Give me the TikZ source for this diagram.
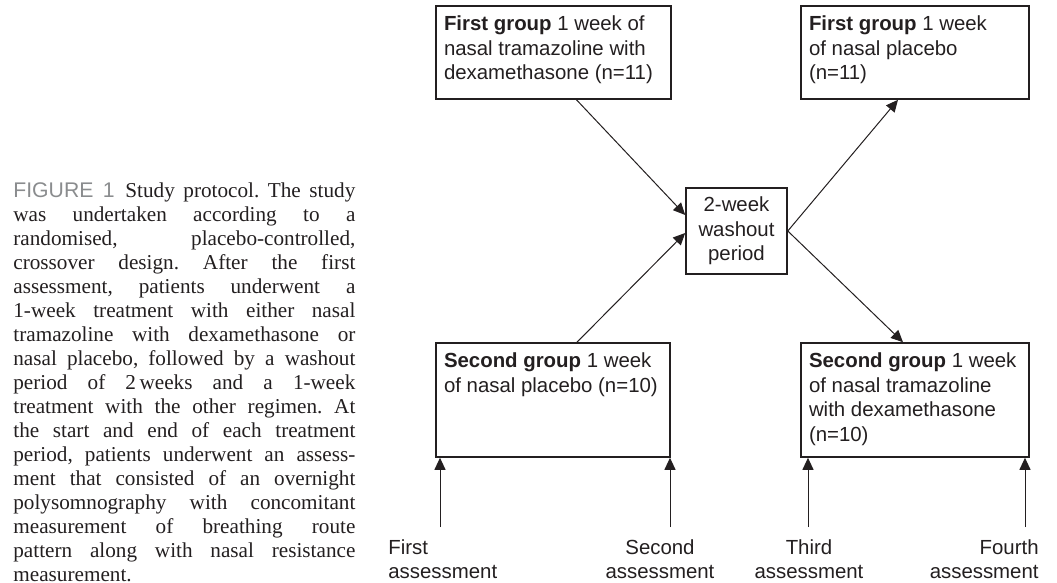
\documentclass[tikz,border=0pt]{standalone}
\usepackage{fontspec}
\setmainfont{Liberation Serif}
\setsansfont{Liberation Sans}
\usetikzlibrary{arrows.meta}
\definecolor{ink}{HTML}{231F20}
\definecolor{capgray}{HTML}{8A8C8E}
\newcommand{\boxfont}{\sffamily\fontsize{10.2}{12.3}\selectfont}
\newcommand{\grouptext}[3]{\parbox[c][#2][t]{#1}{\raggedright #3}}

\begin{document}
\begin{tikzpicture}[x=0.5pt,y=-0.5pt,
    groupbox/.style={draw=ink,line width=0.8pt,inner xsep=4pt,inner ysep=5pt,font=\boxfont,text=ink},
    washbox/.style={draw=ink,line width=0.8pt,minimum width=50.5pt,minimum height=43pt,inner sep=0pt,align=center,font=\boxfont,text=ink},
    flow/.style={draw=ink,line width=0.5pt,-{Triangle[length=6pt,width=5.5pt]}},
    assess/.style={font=\boxfont,text=ink,inner sep=0pt}]
    \useasboundingbox (0,0) rectangle (1057,583);

    \node[anchor=north west,inner sep=0pt,text width=171pt,align=justify,text=ink,
        font=\fontsize{10.6}{12}\selectfont\frenchspacing] (caption) at (13,182)
        {{\sffamily\color{capgray}FIGURE~1}\enspace Study protocol. The study\linebreak
        was undertaken according to a\linebreak
        randomised, placebo-controlled,\linebreak
        crossover design. After the first\linebreak
        assessment, patients underwent a\linebreak
        1-week treatment with either nasal\linebreak
        tramazoline with dexamethasone or\linebreak
        nasal placebo, followed by a washout\linebreak
        period of 2\,weeks and a 1-week\linebreak
        treatment with the other regimen. At\linebreak
        the start and end of each treatment\linebreak
        period, patients underwent an assess-\linebreak
        ment that consisted of an overnight\linebreak
        polysomnography with concomitant\linebreak
        measurement of breathing route\linebreak
        pattern along with nasal resistance\linebreak
        measurement.};

    \node[groupbox] (first1) at (553.5,52.5) {\grouptext{109.5pt}{36.5pt}{\textbf{First group} 1 week of\\ nasal tramazoline with\\ dexamethasone (n=11)}};
    \node[groupbox] (first2) at (915,52.5) {\grouptext{106pt}{36.5pt}{\textbf{First group} 1 week\\ of nasal placebo\\ (n=11)}};
    \node[washbox] (wash) at (736.5,231) {2-week\\ washout\\ period};
    \node[groupbox] (second1) at (553,400) {\grouptext{109pt}{47pt}{\textbf{Second group} 1 week\\ of nasal placebo (n=10)}};
    \node[groupbox] (second2) at (915,400) {\grouptext{106pt}{47pt}{\textbf{Second group} 1 week\\ of nasal tramazoline\\ with dexamethasone\\ (n=10)}};

    \draw[flow] ([xshift=11.5pt]first1.south) -- ([yshift=8pt]wash.west);
    \draw[flow] ([xshift=12pt]second1.north) -- ([yshift=-1pt]wash.west);
    \draw[flow] (wash.east) -- ([xshift=-8.5pt]first2.south);
    \draw[flow] (wash.east) -- ([xshift=-6pt]second2.north);

    \coordinate (a1) at (440,527);
    \coordinate (a2) at (670,527);
    \coordinate (a3) at (808,527);
    \coordinate (a4) at (1025,527);
    \draw[flow] (a1) -- (a1 |- second1.south);
    \draw[flow] (a2) -- (a2 |- second1.south);
    \draw[flow] (a3) -- (a3 |- second2.south);
    \draw[flow] (a4) -- (a4 |- second2.south);

    \node[assess,anchor=north west,align=left] (first) at (388,539) {First\\ assessment};
    \node[assess,anchor=north,align=center] (second) at (660,539) {Second\\ assessment};
    \node[assess,anchor=north,align=center] (third) at (809,539) {Third\\ assessment};
    \node[assess,anchor=north east,align=right] (fourth) at (1039,539) {Fourth\\ assessment};
\end{tikzpicture}
\end{document}
